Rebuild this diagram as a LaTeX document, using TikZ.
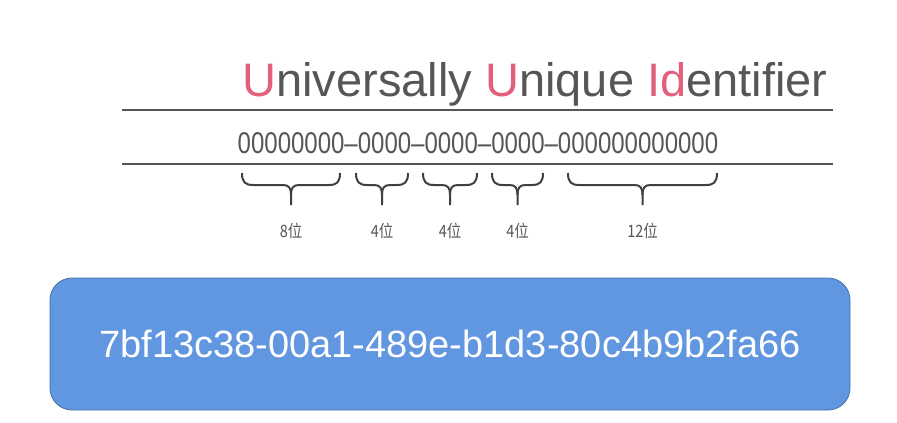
\documentclass[tikz,border=0pt]{standalone}
\usepackage{fontspec,graphicx}
\setmainfont{Liberation Sans}
\newfontfamily\cjk{Noto Sans CJK SC}
\usetikzlibrary{positioning,calc}
\definecolor{titlegray}{HTML}{565656}
\definecolor{titlered}{HTML}{E2607A}
\definecolor{rulegray}{HTML}{555555}
\definecolor{idblue}{HTML}{6196E1}
\definecolor{idedge}{HTML}{4A6EA6}

% brace under one group of digits: left x, right x, name of its tip
\newcommand{\bitbrace}[3]{%
  \draw[bitbr] (#1,173) .. controls (#1,182) and (#1+3,185) .. (#1+11,185)
    -- ({(#1+#2)/2-8},185) .. controls ({(#1+#2)/2-2},185) and ({(#1+#2)/2},188) .. ({(#1+#2)/2},195)
    -- ({(#1+#2)/2},205) coordinate (#3);
  \draw[bitbr] ({(#1+#2)/2},195) .. controls ({(#1+#2)/2},188) and ({(#1+#2)/2+2},185) .. ({(#1+#2)/2+8},185)
    -- (#2-11,185) .. controls (#2-3,185) and (#2,182) .. (#2,173);
}

\begin{document}
\begin{tikzpicture}[
  x=1pt, y=-1pt,
  headline/.style={anchor=base, inner sep=0pt, text=titlegray, font=\fontsize{47}{50}\selectfont},
  zeros/.style={anchor=base, inner sep=0pt, text=titlegray, font=\fontsize{30}{31}\selectfont},
  rule/.style={draw=rulegray, line width=2.8pt},
  bitbr/.style={draw=black!75, line width=2pt},
  bitlbl/.style={text=titlegray, inner sep=0pt, font=\cjk\fontsize{17}{18}\selectfont},
  idbox/.style={draw=idedge, line width=0.8pt, fill=idblue, rounded corners=22pt, minimum width=800pt, minimum height=132pt, text=white, font=\fontsize{38}{40}\selectfont}
]
\useasboundingbox (0,0) rectangle (897,423);

\node[headline] (title) at (535,96) {\textcolor{titlered}{U}niversally \textcolor{titlered}{U}nique \textcolor{titlered}{Id}entifier};

\draw[rule] (122,110) -- (833,110);
\draw[rule] (122,164) -- (833,164);

\node[zeros] (format) at (478,153) {\scalebox{0.8}[1]{00000000--0000--0000--0000--000000000000}};

\bitbrace{242}{340}{b1}
\bitbrace{356}{408}{b2}
\bitbrace{423}{477}{b3}
\bitbrace{492}{543}{b4}
\bitbrace{568}{717}{b5}

\node[bitlbl, below=18pt of b1] (l1) {\scalebox{0.85}[1]{8位}};
\node[bitlbl, below=18pt of b2] (l2) {\scalebox{0.85}[1]{4位}};
\node[bitlbl, below=18pt of b3] (l3) {\scalebox{0.85}[1]{4位}};
\node[bitlbl, below=18pt of b4] (l4) {\scalebox{0.85}[1]{4位}};
\node[bitlbl, below=18pt of b5] (l5) {\scalebox{0.85}[1]{12位}};

\node[idbox] (uuid) at (450,344) {7bf13c38-00a1-489e-b1d3-80c4b9b2fa66};
\end{tikzpicture}
\end{document}
